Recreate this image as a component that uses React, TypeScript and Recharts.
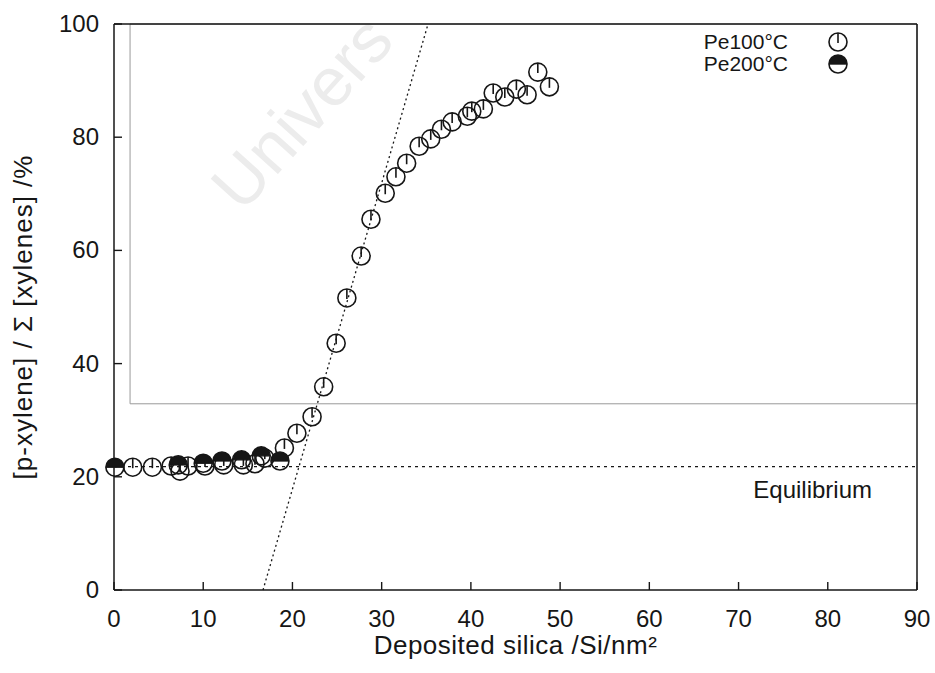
import React from 'react';
import {
  ScatterChart,
  Scatter,
  XAxis,
  YAxis,
  ReferenceLine,
  ReferenceArea,
  Legend,
  Label,
} from 'recharts';

const FONT = '"Liberation Sans", Arial, Helvetica, sans-serif';
const INK = '#161616';
const R = 9;

const xTicks = [0, 10, 20, 30, 40, 50, 60, 70, 80, 90];
const yTicks = [0, 20, 40, 60, 80, 100];

// Pe100°C series (open markers)
const pe100 = [
  { x: 2.1, y: 21.7 },
  { x: 4.3, y: 21.7 },
  { x: 6.4, y: 21.9 },
  { x: 7.4, y: 21.0 },
  { x: 8.3, y: 21.9 },
  { x: 10.2, y: 21.9 },
  { x: 12.3, y: 22.1 },
  { x: 14.5, y: 22.1 },
  { x: 15.8, y: 22.3 },
  { x: 16.9, y: 23.3 },
  { x: 19.1, y: 25.1 },
  { x: 20.5, y: 27.7 },
  { x: 22.2, y: 30.6 },
  { x: 23.5, y: 35.9 },
  { x: 24.9, y: 43.6 },
  { x: 26.1, y: 51.6 },
  { x: 27.7, y: 59.0 },
  { x: 28.8, y: 65.5 },
  { x: 30.4, y: 70.1 },
  { x: 31.6, y: 73.0 },
  { x: 32.8, y: 75.4 },
  { x: 34.2, y: 78.4 },
  { x: 35.5, y: 79.7 },
  { x: 36.7, y: 81.4 },
  { x: 37.9, y: 82.7 },
  { x: 39.6, y: 83.7 },
  { x: 40.1, y: 84.6 },
  { x: 41.4, y: 85.0 },
  { x: 42.5, y: 87.8 },
  { x: 43.8, y: 87.1 },
  { x: 45.1, y: 88.5 },
  { x: 46.3, y: 87.5 },
  { x: 47.5, y: 91.5 },
  { x: 48.8, y: 88.9 },
];

// Pe200°C series (half-filled markers)
const pe200 = [
  { x: 0.1, y: 21.7 },
  { x: 7.2, y: 22.1 },
  { x: 10.0, y: 22.4 },
  { x: 12.1, y: 22.8 },
  { x: 14.3, y: 23.0 },
  { x: 16.5, y: 23.7 },
  { x: 18.6, y: 22.8 },
];

const equilibrium = 21.8;
const fitLine = [
  { x: 16.7, y: 0 },
  { x: 35.2, y: 100 },
];
const insetBox = { x1: 1.8, x2: 90, y1: 32.9, y2: 100 };

function OpenMarker({ cx, cy }: any) {
  return (
    <g>
      <circle cx={cx} cy={cy} r={R} fill="none" stroke={INK} strokeWidth={1.6} />
      <line x1={cx} y1={cy - R} x2={cx} y2={cy + 1} stroke={INK} strokeWidth={1.6} />
    </g>
  );
}

function HalfMarker({ cx, cy }: any) {
  return (
    <g>
      <path d={`M ${cx - R} ${cy} A ${R} ${R} 0 0 1 ${cx + R} ${cy} Z`} fill={INK} />
      <circle cx={cx} cy={cy} r={R} fill="none" stroke={INK} strokeWidth={1.6} />
      <line x1={cx - R} y1={cy} x2={cx + R} y2={cy} stroke={INK} strokeWidth={1.4} />
    </g>
  );
}

const textStyle = { fontFamily: FONT, fontSize: 24, fill: INK };
const titleStyle = { fontFamily: FONT, fontSize: 26, fill: INK, letterSpacing: 0.5 };

function BottomTick({ x, y, payload }: any) {
  return (
    <g>
      <line x1={x} y1={y} x2={x} y2={y - 8} stroke={INK} strokeWidth={1.4} />
      <text x={x} y={y + 37} textAnchor="middle" {...textStyle}>
        {payload.value}
      </text>
    </g>
  );
}

function TopTick({ x, y }: any) {
  return <line x1={x} y1={y} x2={x} y2={y + 8} stroke={INK} strokeWidth={1.4} />;
}

function LeftTick({ x, y, payload }: any) {
  return (
    <g>
      <line x1={x} y1={y} x2={x + 8} y2={y} stroke={INK} strokeWidth={1.4} />
      <text x={x - 15} y={y + 8} textAnchor="end" {...textStyle}>
        {payload.value}
      </text>
    </g>
  );
}

function RightTick({ x, y }: any) {
  return <line x1={x} y1={y} x2={x - 8} y2={y} stroke={INK} strokeWidth={1.4} />;
}

function EquilibriumLabel({ viewBox }: any) {
  if (!viewBox) return null;
  return (
    <text x={viewBox.x + viewBox.width - 45} y={viewBox.y + 31} textAnchor="end" {...textStyle}>
      Equilibrium
    </text>
  );
}

function LegendBox({ payload }: any) {
  return (
    <div style={{ fontFamily: FONT, fontSize: 21, color: INK }}>
      {(payload || []).map((entry: any) => (
        <div key={entry.value} style={{ display: 'flex', alignItems: 'center', height: 22 }}>
          <span style={{ width: 128, textAlign: 'right', lineHeight: '22px' }}>{entry.value}</span>
          <svg width={24} height={22} style={{ marginLeft: 38 }}>
            {entry.value === 'Pe100°C' ? <OpenMarker cx={12} cy={11} /> : <HalfMarker cx={12} cy={11} />}
          </svg>
        </div>
      ))}
    </div>
  );
}

export default function App() {
  return (
    <div style={{ position: 'absolute', left: 0, top: 0, width: 935, height: 673, background: '#fff' }}>
      <svg width={935} height={673} style={{ position: 'absolute', left: 0, top: 0 }}>
        <text
          x={242}
          y={214}
          fontFamily={FONT}
          fontSize={68}
          fill="#ececec"
          transform="rotate(-48 242 214)"
        >
          Univers
        </text>
      </svg>
      <div style={{ position: 'absolute', left: 0, top: 0 }}>
        <ScatterChart width={935} height={673} margin={{ top: 23, right: 17, bottom: 82, left: 113 }}>
          <XAxis
            type="number"
            dataKey="x"
            domain={[0, 90]}
            ticks={xTicks}
            height={1}
            tickSize={0}
            tickMargin={0}
            tickLine={false}
            tick={<BottomTick />}
            axisLine={{ stroke: INK, strokeWidth: 1.5 }}
          >
            <Label
              content={({ viewBox }: any) => (
                <text
                  x={viewBox.x + viewBox.width / 2}
                  y={viewBox.y + 64}
                  textAnchor="middle"
                  {...titleStyle}
                >
                  Deposited silica /Si/nm²
                </text>
              )}
            />
          </XAxis>
          <XAxis
            xAxisId="top"
            orientation="top"
            type="number"
            dataKey="x"
            domain={[0, 90]}
            ticks={xTicks}
            height={1}
            tickSize={0}
            tickMargin={0}
            tickLine={false}
            tick={<TopTick />}
            axisLine={{ stroke: INK, strokeWidth: 1.5 }}
          />
          <YAxis
            type="number"
            dataKey="y"
            domain={[0, 100]}
            ticks={yTicks}
            width={1}
            tickSize={0}
            tickMargin={0}
            tickLine={false}
            tick={<LeftTick />}
            axisLine={{ stroke: INK, strokeWidth: 1.5 }}
          >
            <Label
              content={({ viewBox }: any) => {
                const cx = viewBox.x - 90;
                const cy = viewBox.y + viewBox.height / 2 + 10;
                return (
                  <text
                    x={cx}
                    y={cy}
                    textAnchor="middle"
                    dominantBaseline="central"
                    transform={`rotate(-90 ${cx} ${cy})`}
                    {...titleStyle}
                    letterSpacing={1}
                  >
                    [p-xylene] / Σ [xylenes] /%
                  </text>
                );
              }}
            />
          </YAxis>
          <YAxis
            yAxisId="right"
            orientation="right"
            type="number"
            dataKey="y"
            domain={[0, 100]}
            ticks={yTicks}
            width={1}
            tickSize={0}
            tickMargin={0}
            tickLine={false}
            tick={<RightTick />}
            axisLine={{ stroke: INK, strokeWidth: 1.5 }}
          />
          <ReferenceArea
            x1={insetBox.x1}
            x2={insetBox.x2}
            y1={insetBox.y1}
            y2={insetBox.y2}
            fill="none"
            stroke="#9a9a9a"
            strokeWidth={1}
          />
          <ReferenceLine
            y={equilibrium}
            stroke={INK}
            strokeWidth={1.3}
            strokeDasharray="3 4"
            label={<EquilibriumLabel />}
          />
          <ReferenceLine segment={fitLine} stroke={INK} strokeWidth={1.3} strokeDasharray="2 3" />
          <Scatter name="Pe100°C" data={pe100} shape={<OpenMarker />} isAnimationActive={false} />
          <Scatter name="Pe200°C" data={pe200} shape={<HalfMarker />} isAnimationActive={false} />
          <Legend
            layout="vertical"
            align="center"
            verticalAlign="middle"
            content={<LegendBox />}
            wrapperStyle={{ position: 'absolute', top: 31, left: 660, width: 200 }}
          />
        </ScatterChart>
      </div>
    </div>
  );
}
